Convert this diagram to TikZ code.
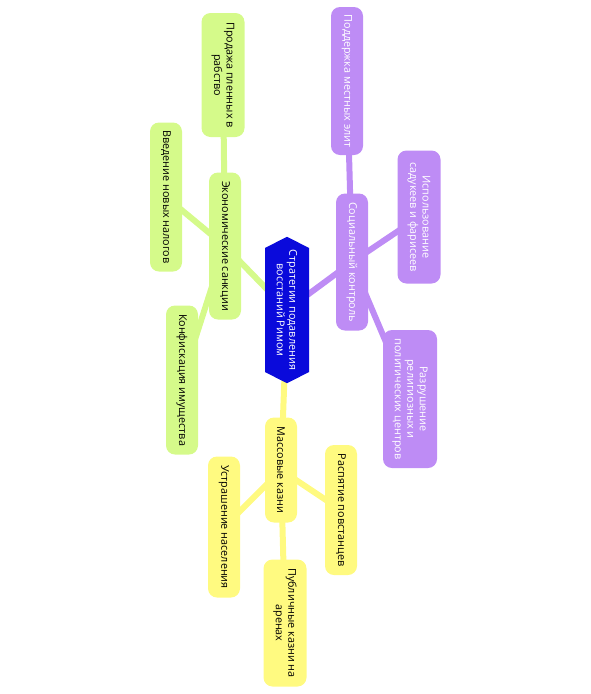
\documentclass[tikz,border=0pt]{standalone}
\usepackage{fontspec}
\setmainfont{Open Sans}
\usetikzlibrary{shapes.symbols,backgrounds}
\definecolor{hubBlue}{RGB}{10,10,219}
\definecolor{limeFill}{RGB}{213,250,138}
\definecolor{lilacFill}{RGB}{190,140,245}
\definecolor{lemonFill}{RGB}{255,250,128}
\begin{document}
\begin{tikzpicture}[
  x=1pt, y=-1pt,
  font=\fontsize{10.8}{12.5}\selectfont,
  every node/.style={align=center, rotate=-90},
  hub/.style={shape=signal, signal to=west and east, signal pointer angle=126,
    fill=hubBlue, text=white, minimum width=146pt, minimum height=44pt, inner sep=2pt},
  box/.style={rounded corners=9pt, inner sep=3pt, minimum height=32pt},
  limeBox/.style={box, fill=limeFill, text=black},
  lilacBox/.style={box, fill=lilacFill, text=white},
  lemonBox/.style={box, fill=lemonFill, text=black},
  limeLink/.style={draw=limeFill, line width=6pt},
  lilacLink/.style={draw=lilacFill, line width=6pt},
  lemonLink/.style={draw=lemonFill, line width=6pt}]

\useasboundingbox (0,0) rectangle (591,694);

% Position the nodes at their places on the page
\node[hub] (strategies) at (287,310) {Стратегии подавления\\восстаний Римом};

\node[limeBox, minimum width=147pt] (economicSanctions) at (225,246) {Экономические санкции};
\node[limeBox, minimum width=124pt, minimum height=43pt] (slaveSale) at (223,75) {Продажа пленных в\\рабство};
\node[limeBox, minimum width=149pt] (newTaxes) at (166,197) {Введение новых налогов};
\node[limeBox, minimum width=149pt] (confiscation) at (182,380) {Конфискация имущества};

\node[lilacBox, minimum width=137pt] (socialControl) at (352,262) {Социальный контроль};
\node[lilacBox, minimum width=148pt] (localElites) at (347,81) {Поддержка местных элит};
\node[lilacBox, minimum width=133pt, minimum height=43pt] (sadducees) at (419,217) {Использование\\садукеев и фарисеев};
\node[lilacBox, minimum width=138pt, minimum height=54pt] (destruction) at (410,399) {Разрушение\\религиозных и\\политических центров};

\node[lemonBox, minimum width=105pt] (massExecutions) at (281,470) {Массовые казни};
\node[lemonBox, minimum width=130pt] (crucifixion) at (341,510) {Распятие повстанцев};
\node[lemonBox, minimum width=141pt] (intimidation) at (224,527) {Устрашение населения};
\node[lemonBox, minimum width=127pt, minimum height=43pt] (arenas) at (285,623) {Публичные казни на\\аренах};

% Draw the branches behind the nodes
\begin{scope}[on background layer]
\draw [limeLink] (strategies.center) -- (economicSanctions.center);
\draw [limeLink] (economicSanctions.center) -- (slaveSale.center);
\draw [limeLink] (economicSanctions.center) -- (newTaxes.center);
\draw [limeLink] (economicSanctions.center) -- (confiscation.center);

\draw [lilacLink] (strategies.center) -- (socialControl.center);
\draw [lilacLink] (socialControl.center) -- (localElites.center);
\draw [lilacLink] (socialControl.center) -- (sadducees.center);
\draw [lilacLink] (socialControl.center) -- (destruction.center);

\draw [lemonLink] (strategies.center) -- (massExecutions.center);
\draw [lemonLink] (massExecutions.center) -- (crucifixion.center);
\draw [lemonLink] (massExecutions.center) -- (intimidation.center);
\draw [lemonLink] (massExecutions.center) -- (arenas.center);
\end{scope}
\end{tikzpicture}
\end{document}
